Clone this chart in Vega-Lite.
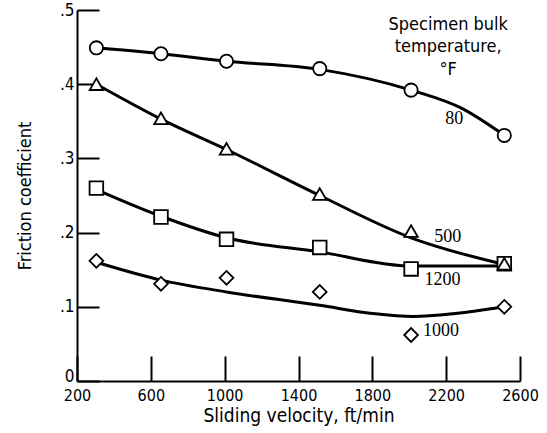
{
  "$schema": "https://vega.github.io/schema/vega-lite/v6.json",
  "width": 443,
  "height": 371,
  "autosize": {"type": "none"},
  "padding": {"left": 77, "top": 10, "right": 27, "bottom": 52},
  "background": "white",
  "config": {
    "view": {"stroke": null},
    "font": "DejaVu Sans Condensed",
    "axis": {
      "grid": false,
      "domainColor": "black",
      "domainWidth": 2,
      "tickColor": "black",
      "tickWidth": 2,
      "labelColor": "black",
      "titleColor": "black",
      "labelFont": "DejaVu Sans Condensed",
      "titleFont": "DejaVu Sans Condensed",
      "labelFontSize": 16,
      "titleFontSize": 18,
      "titleFontWeight": "normal"
    }
  },
  "datasets": {
    "points": [
      {"velocity": 305, "friction": 0.449, "temp": "80"},
      {"velocity": 655, "friction": 0.441, "temp": "80"},
      {"velocity": 1010, "friction": 0.431, "temp": "80"},
      {"velocity": 1515, "friction": 0.421, "temp": "80"},
      {"velocity": 2010, "friction": 0.392, "temp": "80"},
      {"velocity": 2515, "friction": 0.331, "temp": "80"},
      {"velocity": 305, "friction": 0.260, "temp": "1200"},
      {"velocity": 655, "friction": 0.221, "temp": "1200"},
      {"velocity": 1010, "friction": 0.191, "temp": "1200"},
      {"velocity": 1515, "friction": 0.180, "temp": "1200"},
      {"velocity": 2010, "friction": 0.151, "temp": "1200"},
      {"velocity": 2515, "friction": 0.158, "temp": "1200"},
      {"velocity": 305, "friction": 0.162, "temp": "1000"},
      {"velocity": 655, "friction": 0.131, "temp": "1000"},
      {"velocity": 1010, "friction": 0.139, "temp": "1000"},
      {"velocity": 1515, "friction": 0.120, "temp": "1000"},
      {"velocity": 2010, "friction": 0.062, "temp": "1000"},
      {"velocity": 2515, "friction": 0.100, "temp": "1000"},
      {"velocity": 305, "friction": 0.400, "temp": "500"},
      {"velocity": 655, "friction": 0.354, "temp": "500"},
      {"velocity": 1010, "friction": 0.313, "temp": "500"},
      {"velocity": 1515, "friction": 0.252, "temp": "500"},
      {"velocity": 2010, "friction": 0.202, "temp": "500"},
      {"velocity": 2515, "friction": 0.158, "temp": "500"}
    ],
    "curves": [
      {"velocity": 305, "friction": 0.449, "temp": "80"},
      {"velocity": 655, "friction": 0.441, "temp": "80"},
      {"velocity": 1010, "friction": 0.431, "temp": "80"},
      {"velocity": 1515, "friction": 0.420, "temp": "80"},
      {"velocity": 2010, "friction": 0.392, "temp": "80"},
      {"velocity": 2280, "friction": 0.368, "temp": "80"},
      {"velocity": 2515, "friction": 0.331, "temp": "80"},
      {"velocity": 305, "friction": 0.400, "temp": "500"},
      {"velocity": 655, "friction": 0.353, "temp": "500"},
      {"velocity": 1010, "friction": 0.312, "temp": "500"},
      {"velocity": 1515, "friction": 0.250, "temp": "500"},
      {"velocity": 2010, "friction": 0.193, "temp": "500"},
      {"velocity": 2515, "friction": 0.157, "temp": "500"},
      {"velocity": 305, "friction": 0.258, "temp": "1200"},
      {"velocity": 655, "friction": 0.222, "temp": "1200"},
      {"velocity": 1010, "friction": 0.193, "temp": "1200"},
      {"velocity": 1515, "friction": 0.174, "temp": "1200"},
      {"velocity": 2010, "friction": 0.155, "temp": "1200"},
      {"velocity": 2515, "friction": 0.155, "temp": "1200"},
      {"velocity": 305, "friction": 0.160, "temp": "1000"},
      {"velocity": 655, "friction": 0.136, "temp": "1000"},
      {"velocity": 1010, "friction": 0.120, "temp": "1000"},
      {"velocity": 1515, "friction": 0.102, "temp": "1000"},
      {"velocity": 1800, "friction": 0.091, "temp": "1000"},
      {"velocity": 2020, "friction": 0.087, "temp": "1000"},
      {"velocity": 2250, "friction": 0.091, "temp": "1000"},
      {"velocity": 2515, "friction": 0.100, "temp": "1000"}
    ],
    "labels": [
      {"velocity": 2244, "friction": 0.353, "text": "80"},
      {"velocity": 2208, "friction": 0.194, "text": "500"},
      {"velocity": 2180, "friction": 0.136, "text": "1200"},
      {"velocity": 2172, "friction": 0.067, "text": "1000"}
    ],
    "title": [
      {"velocity": 2211, "friction": 0.473, "text": "Specimen bulk"},
      {"velocity": 2211, "friction": 0.443, "text": "temperature,"},
      {"velocity": 2211, "friction": 0.412, "text": "°F"}
    ]
  },
  "layer": [
    {
      "data": {"name": "curves"},
      "mark": {"type": "line", "interpolate": "monotone", "color": "black", "strokeWidth": 3},
      "encoding": {
        "x": {
          "field": "velocity", "type": "quantitative",
          "scale": {"domain": [200, 2600], "nice": false, "zero": false},
          "axis": {
            "title": "Sliding velocity,  ft/min",
            "format": "d",
            "values": [200, 600, 1000, 1400, 1800, 2200, 2600],
            "tickSize": -25,
            "labelPadding": 31,
            "titleX": 221.5,
            "titleY": 34,
            "titleFontSize": 19,
            "titleBaseline": "middle",
            "titleAlign": "center",
            "labelFlush": false
          }
        },
        "y": {
          "field": "friction", "type": "quantitative",
          "scale": {"domain": [0, 0.5], "nice": false, "zero": false},
          "axis": {
            "title": "Friction coefficient",
            "values": [0, 0.1, 0.2, 0.3, 0.4, 0.5],
            "labelExpr": "datum.value == 0 ? '0' : replace(format(datum.value, '.1f'), '0.', '.')",
            "labelBaseline": {"condition": {"test": "datum.value == 0", "value": "alphabetic"}, "value": "middle"},
            "labelFontSize": 17,
            "tickSize": -22,
            "labelPadding": 25,
            "titleX": -52,
            "titleY": 185.5,
            "titleBaseline": "middle",
            "titleAlign": "center",
            "titleAngle": -90,
            "labelFlush": false
          }
        },
        "detail": {"field": "temp"}
      }
    },
    {
      "data": {"name": "points"},
      "mark": {"type": "point", "filled": false, "fill": "white", "fillOpacity": 1, "stroke": "black", "strokeWidth": 1.8, "opacity": 1},
      "encoding": {
        "x": {"field": "velocity", "type": "quantitative"},
        "y": {"field": "friction", "type": "quantitative"},
        "shape": {
          "field": "temp", "type": "nominal",
          "scale": {"domain": ["80", "500", "1200", "1000"], "range": ["circle", "triangle-up", "square", "diamond"]},
          "legend": null
        },
        "size": {
          "field": "temp", "type": "nominal",
          "scale": {"domain": ["80", "500", "1200", "1000"], "range": [175, 190, 170, 250]},
          "legend": null
        }
      }
    },
    {
      "data": {"name": "labels"},
      "mark": {"type": "text", "font": "Liberation Serif", "fontSize": 18, "color": "black", "baseline": "middle", "align": "center"},
      "encoding": {
        "x": {"field": "velocity", "type": "quantitative"},
        "y": {"field": "friction", "type": "quantitative"},
        "text": {"field": "text"}
      }
    },
    {
      "data": {"name": "title"},
      "mark": {"type": "text", "fontSize": 18, "color": "black", "baseline": "alphabetic", "align": "center"},
      "encoding": {
        "x": {"field": "velocity", "type": "quantitative"},
        "y": {"field": "friction", "type": "quantitative"},
        "text": {"field": "text"}
      }
    }
  ]
}
